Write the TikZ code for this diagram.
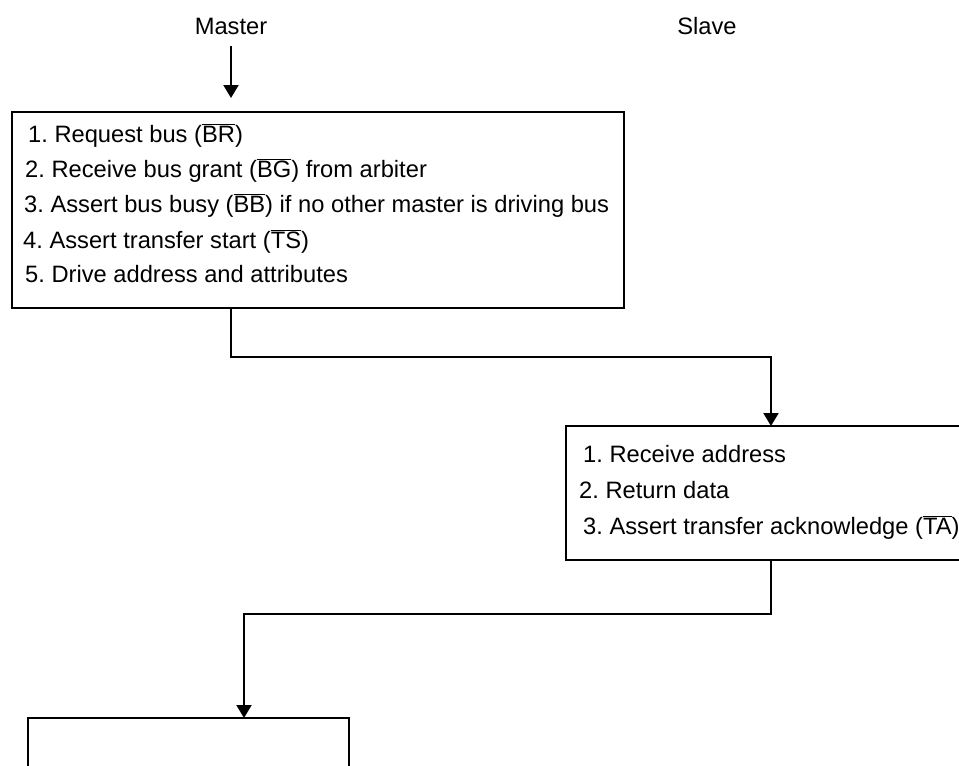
\documentclass[tikz,border=0pt]{standalone}
\usepackage{fontspec}
\setmainfont{Liberation Sans}
\usetikzlibrary{arrows.meta}
\frenchspacing

% active-low signal name
\newcommand{\ovl}[1]{$\overline{\hbox{#1}}$}

\begin{document}
\begin{tikzpicture}[x=1pt, y=-1pt,
  every node/.style={font=\fontsize{23.7}{28}\selectfont},
  procbox/.style={draw, line width=2pt, inner sep=0pt, outer sep=0pt, anchor=north west},
  steptext/.style={anchor=base west, inner sep=0pt},
  flow/.style={line width=2pt, -{Triangle[width=15pt, length=13pt]}}]

\clip (0,0) rectangle (959,766);

%---------------------------------------
% Column headings
%---------------------------------------
\node (master) at (231,26) {Master};
\node (slave)  at (707,26) {Slave};

%---------------------------------------
% Master box
%---------------------------------------
\node[procbox, minimum width=612pt, minimum height=196pt] (mbox) at (12,112) {};
\node[steptext] (m1) at (28,142) {1. Request bus (\ovl{BR})};
\node[steptext] (m2) at (25,177) {2. Receive bus grant (\ovl{BG}) from arbiter};
\node[steptext] (m3) at (24,212) {3. Assert bus busy (\ovl{BB}) if no other master is driving bus};
\node[steptext] (m4) at (23,248) {4. Assert transfer start (\ovl{TS})};
\node[steptext] (m5) at (25,282) {5. Drive address and attributes};

%---------------------------------------
% Slave box
%---------------------------------------
\node[procbox, minimum width=410pt, minimum height=134pt] (sbox) at (566,426) {};
\node[steptext] (s1) at (583,462) {1. Receive address};
\node[steptext] (s2) at (579,498) {2. Return data};
\node[steptext] (s3) at (583,534) {3. Assert transfer acknowledge (\ovl{TA})};

%---------------------------------------
% Next master box (cut off)
%---------------------------------------
\node[procbox, minimum width=321pt, minimum height=80pt] (rbox) at (28,718) {};
\coordinate (rin) at (244,718);

% Connectors
\draw[flow, shorten <=8pt, shorten >=14pt] (master.south) -- (master.south |- mbox.north);
\draw[flow] (mbox.south -| master) -- ++(0,49) -| (sbox.north);
\draw[flow] (sbox.south) -- ++(0,54) -| (rin);

\end{tikzpicture}
\end{document}
